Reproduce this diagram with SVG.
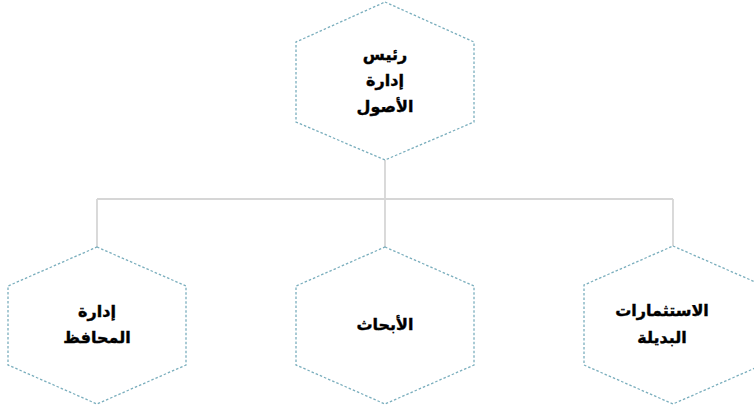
<svg xmlns="http://www.w3.org/2000/svg" width="754" height="410" viewBox="0 0 754 410">
<style>
.hex{fill:#ffffff;stroke:#7aaebd;stroke-width:1.3;stroke-dasharray:2.5,2}
.conn{fill:none;stroke:#d6d6d6;stroke-width:1.8}
.lbl{font-family:"DejaVu Sans",sans-serif;font-weight:bold;font-size:16px;fill:#000000;stroke:#000000;stroke-width:0.4;text-anchor:middle}
</style>
<rect width="754" height="410" fill="#ffffff"/>
<g id="connectors">
<path class="conn" d="M385,160 V199 M97,199 H673 M97,199 V247 M385,199 V247 M673,199 V246"/>
</g>
<g id="node-head">
<polygon class="hex" points="385,2 474,42 474,122 385,160 296,122 296,42"/>
<text class="lbl" x="385" y="60">رئيس</text>
<text class="lbl" x="385" y="86">إدارة</text>
<text class="lbl" x="385" y="112">الأصول</text>
</g>
<g id="node-portfolio">
<polygon class="hex" points="97,247 186,286 186,365 97,404 8,365 8,286"/>
<text class="lbl" x="97" y="317">إدارة</text>
<text class="lbl" x="97" y="343">المحافظ</text>
</g>
<g id="node-research">
<polygon class="hex" points="385,247 474,286 474,365 385,404 296,365 296,286"/>
<text class="lbl" x="385" y="330">الأبحاث</text>
</g>
<g id="node-alternative">
<polygon class="hex" points="673,246 762,285 762,365 673,404 584,365 584,285"/>
<text class="lbl" x="662" y="316">الاستثمارات</text>
<text class="lbl" x="662" y="343">البديلة</text>
</g>
</svg>
